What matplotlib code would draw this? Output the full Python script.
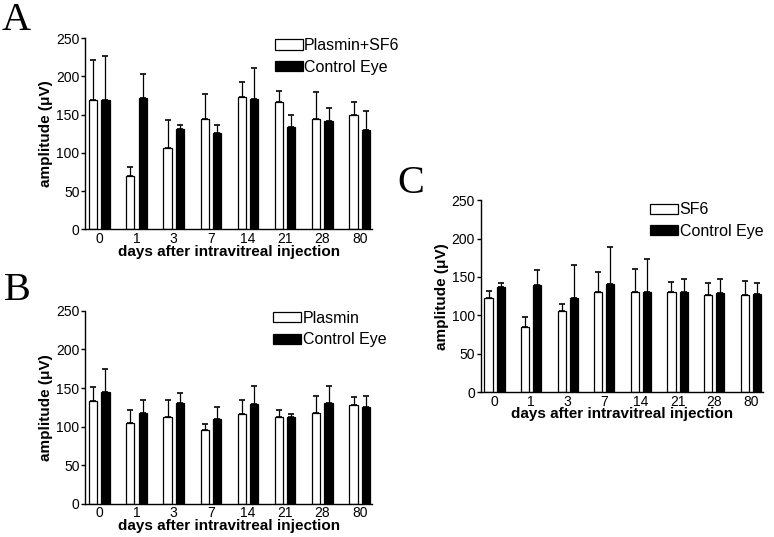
"""ERG amplitude after intravitreal injection: three panels (A, B, C)."""
import numpy as np
import matplotlib
matplotlib.use('Agg')
import matplotlib.pyplot as plt

days = ['0', '1', '3', '7', '14', '21', '28', '80']

# A: Plasmin+SF6 vs control eye
a_treat = [169, 70, 106, 144, 173, 166, 144, 150]
a_treat_err = [52, 11, 37, 33, 20, 15, 35, 16]
a_ctrl = [169, 172, 131, 126, 171, 134, 142, 130]
a_ctrl_err = [58, 31, 5, 11, 40, 16, 16, 25]

# B: Plasmin vs control eye
b_treat = [133, 105, 113, 96, 116, 113, 118, 128]
b_treat_err = [18, 16, 22, 7, 18, 8, 22, 10]
b_ctrl = [145, 117, 131, 110, 129, 112, 131, 126]
b_ctrl_err = [30, 18, 12, 16, 23, 4, 22, 14]

# C: SF6 vs control eye
c_treat = [122, 85, 106, 130, 131, 131, 127, 127]
c_treat_err = [10, 13, 9, 26, 29, 12, 15, 18]
c_ctrl = [137, 139, 123, 141, 131, 130, 129, 128]
c_ctrl_err = [5, 20, 42, 48, 42, 17, 18, 14]

plt.rcParams['font.family'] = ['Liberation Sans', 'DejaVu Sans']


def panel(fig, rect, treat, treat_err, ctrl, ctrl_err, lab, leg_xy):
    ax = fig.add_axes(rect)
    x = np.arange(len(days))
    w, off = 0.22, 0.165
    for xs, v, e in [(x - off, treat, treat_err), (x + off, ctrl, ctrl_err)]:
        ax.errorbar(xs, v, yerr=[np.zeros(len(v)), e], fmt='none', ecolor='black',
                    elinewidth=0.9, capsize=2, capthick=1.2, zorder=1)
    ax.bar(x - off, treat, w, color='white', edgecolor='black', linewidth=0.9,
           label=lab, zorder=2)
    ax.bar(x + off, ctrl, w, color='black', edgecolor='black', linewidth=0.9,
           label='Control Eye', zorder=2)
    ax.set_xlim(-0.38, 7.34); ax.set_ylim(0, 250)
    ax.set_yticks([0, 50, 100, 150, 200, 250])
    ax.set_xticks(x); ax.set_xticklabels(days)
    for s in ['top', 'right']:
        ax.spines[s].set_visible(False)
    for s in ['left', 'bottom']:
        ax.spines[s].set_linewidth(1.0)
    ax.tick_params(axis='y', length=3, width=1.0, pad=1, labelsize=10)
    ax.tick_params(axis='x', length=0, pad=2, labelsize=10)
    ax.set_xlabel('days after intravitreal injection', fontsize=11, fontweight='bold', labelpad=-1)
    ax.set_ylabel('amplitude (\u03bcV)', fontsize=11, fontweight='bold', labelpad=2)
    ax.legend(loc='upper left', bbox_to_anchor=leg_xy, frameon=False, fontsize=11.5,
              handlelength=1.75, handleheight=0.6, handletextpad=0.1,
              labelspacing=0.4, borderpad=0, borderaxespad=0)
    return ax


fig = plt.figure(figsize=(7.74, 5.37), dpi=100)
panel(fig, [0.110, 0.573, 0.371, 0.356], a_treat, a_treat_err, a_ctrl, a_ctrl_err,
      'Plasmin+SF6', (0.66, 1.0))
panel(fig, [0.110, 0.062, 0.371, 0.359], b_treat, b_treat_err, b_ctrl, b_ctrl_err,
      'Plasmin', (0.655, 1.0))
panel(fig, [0.621, 0.270, 0.365, 0.357], c_treat, c_treat_err, c_ctrl, c_ctrl_err,
      'SF6', (0.60, 0.99))

# panel letters in a serif face
for t, px, py in [('A', 2, 2), ('B', 4, 272), ('C', 397, 165)]:
    fig.text(px / 774, 1 - py / 537, t, fontsize=29, family='Liberation Serif',
             ha='left', va='top')

plt.savefig('out.png', dpi=100)
plt.close()
